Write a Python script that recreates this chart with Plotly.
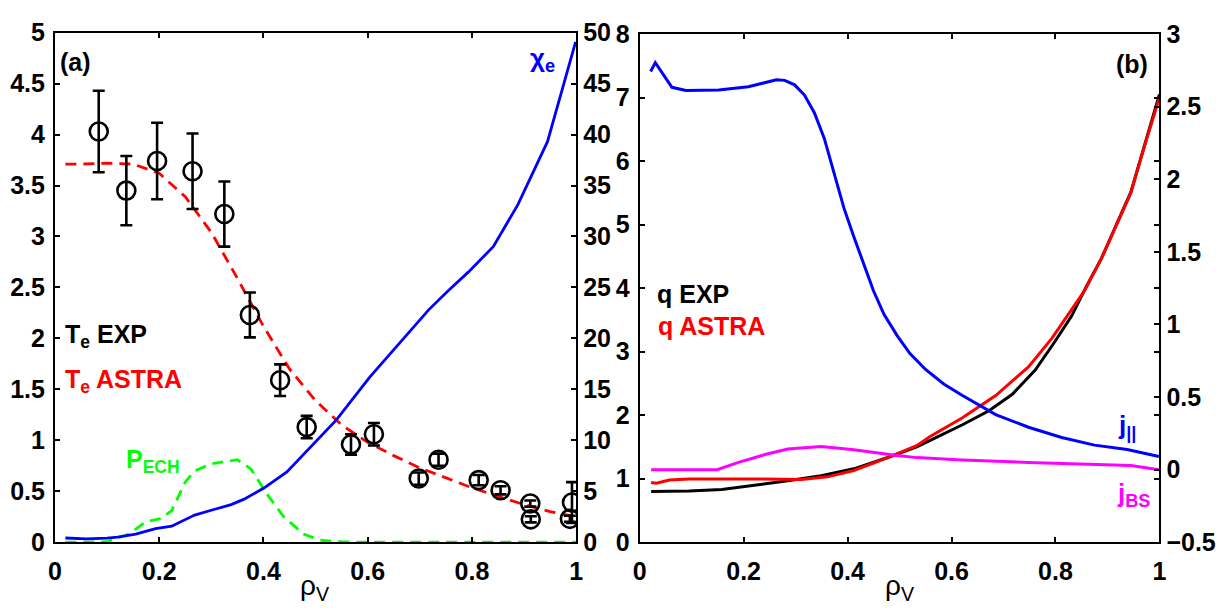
import plotly.graph_objects as go

W, H = 1229, 612

# ---------------- Panel (a) data ----------------
te_exp_rho = [0.084, 0.137, 0.196, 0.264, 0.325, 0.374, 0.432, 0.483, 0.568, 0.612,
              0.698, 0.736, 0.813, 0.855, 0.912, 0.913, 0.992, 0.988]
te_exp_val = [4.03, 3.45, 3.74, 3.64, 3.22, 2.23, 1.59, 1.13, 0.96, 1.06,
              0.625, 0.81, 0.61, 0.51, 0.38, 0.225, 0.39, 0.23]
te_exp_err = [0.40, 0.34, 0.375, 0.37, 0.32, 0.22, 0.155, 0.11, 0.10, 0.11,
              0.06, 0.06, 0.05, 0.04, 0.03, 0.03, 0.20, 0.03]

astra_rho = [0.02, 0.05, 0.10, 0.15, 0.20, 0.25, 0.30, 0.35, 0.40, 0.45, 0.50,
             0.55, 0.60, 0.65, 0.70, 0.75, 0.80, 0.85, 0.90, 0.95, 1.00]
te_astra = [3.71, 3.71, 3.72, 3.71, 3.62, 3.39, 3.04, 2.59, 2.12, 1.70, 1.39,
            1.15, 0.98, 0.85, 0.73, 0.63, 0.535, 0.45, 0.37, 0.30, 0.25]

chi_rho = [0.02, 0.06, 0.10, 0.12, 0.155, 0.193, 0.224, 0.268, 0.30, 0.338, 0.363,
           0.401, 0.445, 0.477, 0.515, 0.54, 0.604, 0.66, 0.717, 0.755, 0.793,
           0.841, 0.888, 0.945, 0.969, 0.999]
chi_e = [0.42, 0.33, 0.40, 0.50, 0.80, 1.33, 1.58, 2.67, 3.14, 3.70, 4.23,
         5.32, 6.90, 8.60, 10.6, 12.0, 16.2, 19.5, 22.8, 24.7, 26.5,
         29.0, 33.1, 39.3, 43.7, 49.1]

ech_rho = [0.02, 0.06, 0.10, 0.142, 0.174, 0.205, 0.224, 0.25, 0.268, 0.30, 0.35,
           0.376, 0.407, 0.439, 0.477, 0.509, 0.55, 0.60, 0.70, 0.80, 0.90, 1.00]
p_ech = [0.0, 0.0, 0.005, 0.08, 0.20, 0.235, 0.31, 0.59, 0.70, 0.77, 0.81,
         0.72, 0.47, 0.25, 0.08, 0.02, 0.005, 0.0, 0.0, 0.0, 0.0, 0.0]

# ---------------- Panel (b) data ----------------
qexp_rho = [0.022, 0.095, 0.158, 0.222, 0.285, 0.349, 0.412, 0.476, 0.533, 0.558,
            0.621, 0.672, 0.717, 0.761, 0.799, 0.831, 0.859, 0.888, 0.945, 0.97, 1.0]
q_exp = [0.80, 0.806, 0.832, 0.896, 0.967, 1.047, 1.156, 1.33, 1.50, 1.60,
         1.85, 2.07, 2.33, 2.71, 3.16, 3.56, 4.02, 4.46, 5.51, 6.21, 7.05]

qast_rho = [0.022, 0.032, 0.057, 0.095, 0.222, 0.311, 0.361, 0.412, 0.476, 0.533,
            0.558, 0.621, 0.685, 0.748, 0.793, 0.831, 0.856, 0.888, 0.945, 0.97, 1.0]
q_astra = [0.94, 0.93, 0.98, 0.997, 0.997, 0.99, 1.03, 1.13, 1.33, 1.52,
           1.66, 1.96, 2.31, 2.76, 3.21, 3.66, 3.96, 4.46, 5.50, 6.20, 7.0]

jpar_rho = [0.021, 0.030, 0.062, 0.089, 0.152, 0.209, 0.263, 0.279, 0.298, 0.317,
            0.336, 0.355, 0.374, 0.393, 0.412, 0.43, 0.45, 0.47, 0.495, 0.52,
            0.55, 0.585, 0.621, 0.685, 0.748, 0.812, 0.875, 0.938, 0.999]
j_par = [2.742, 2.803, 2.633, 2.611, 2.615, 2.637, 2.685, 2.681, 2.65, 2.58,
         2.458, 2.283, 2.042, 1.801, 1.604, 1.42, 1.23, 1.07, 0.925, 0.80,
         0.69, 0.59, 0.511, 0.379, 0.292, 0.222, 0.169, 0.139, 0.091]

jbs_rho = [0.022, 0.149, 0.19, 0.241, 0.285, 0.349, 0.412, 0.476, 0.495, 0.533,
           0.621, 0.748, 0.875, 0.945, 0.999]
j_bs = [0.0, 0.0, 0.05, 0.104, 0.142, 0.159, 0.137, 0.104, 0.098, 0.083,
        0.067, 0.05, 0.035, 0.028, 0.0]

# ---------------- Tick labels ----------------
x_ticks = [0, 0.2, 0.4, 0.6, 0.8, 1.0]
x_ticktext = ["0", "0.2", "0.4", "0.6", "0.8", "1"]
ya_ticks = [0, 0.5, 1, 1.5, 2, 2.5, 3, 3.5, 4, 4.5, 5]
ya_ticktext = ["0", "0.5", "1", "1.5", "2", "2.5", "3", "3.5", "4", "4.5", "5"]
ya2_ticks = [0, 5, 10, 15, 20, 25, 30, 35, 40, 45, 50]
ya2_ticktext = ["0", "5", "10", "15", "20", "25", "30", "35", "40", "45", "50"]
yb_ticks = [0, 1, 2, 3, 4, 5, 6, 7, 8]
yb_ticktext = ["0", "1", "2", "3", "4", "5", "6", "7", "8"]
yb2_ticks = [-0.5, 0, 0.5, 1, 1.5, 2, 2.5, 3]
yb2_ticktext = ["\u22120.5", "0", "0.5", "1", "1.5", "2", "2.5", "3"]

FONT = "Liberation Sans, Arial, Helvetica, sans-serif"
TICKFONT = dict(family=FONT, size=25, color="black", weight="bold")

fig = go.Figure()

# Panel (a)
fig.add_trace(go.Scatter(x=chi_rho, y=chi_e, mode="lines", xaxis="x", yaxis="y2",
                         line=dict(color="#0000FF", width=2.8), showlegend=False))
fig.add_trace(go.Scatter(x=ech_rho, y=p_ech, mode="lines", xaxis="x", yaxis="y",
                         line=dict(color="#00FF00", width=2.8, dash="11px,7px"), showlegend=False))
fig.add_trace(go.Scatter(x=astra_rho, y=te_astra, mode="lines", xaxis="x", yaxis="y",
                         line=dict(color="#FF0000", width=2.8, dash="11px,7px"), showlegend=False))
fig.add_trace(go.Scatter(x=te_exp_rho, y=te_exp_val, mode="markers", xaxis="x", yaxis="y",
                         marker=dict(symbol="circle-open", size=18, color="black",
                                     line=dict(color="black", width=2.6)),
                         error_y=dict(type="data", array=te_exp_err, visible=True,
                                      color="black", thickness=2.6, width=6),
                         showlegend=False))

# Panel (b)
fig.add_trace(go.Scatter(x=jpar_rho, y=j_par, mode="lines", xaxis="x2", yaxis="y4",
                         line=dict(color="#0000FF", width=3), showlegend=False))
fig.add_trace(go.Scatter(x=jbs_rho, y=j_bs, mode="lines", xaxis="x2", yaxis="y4",
                         line=dict(color="#FF00FF", width=3), showlegend=False))
fig.add_trace(go.Scatter(x=qexp_rho, y=q_exp, mode="lines", xaxis="x2", yaxis="y3",
                         line=dict(color="black", width=3), showlegend=False))
fig.add_trace(go.Scatter(x=qast_rho, y=q_astra, mode="lines", xaxis="x2", yaxis="y3",
                         line=dict(color="#FF0000", width=3), showlegend=False))

ax_common = dict(showgrid=False, zeroline=False, showline=True, linecolor="black",
                 linewidth=2, ticks="inside", ticklen=5, tickwidth=1.5,
                 tickcolor="black", tickfont=TICKFONT)

xa0, xa1 = 48.5 / W, 575.7 / W
xb0, xb1 = 640.0 / W, 1165.7 / W
ya0, ya1 = 1 - 553.6 / H, 1 - 19.5 / H
yb0, yb1 = 1 - 553.6 / H, 1 - 21.0 / H

fig.update_layout(
    width=W, height=H, margin=dict(l=0, r=0, t=0, b=0),
    paper_bgcolor="white", plot_bgcolor="white",
    font=dict(family=FONT, color="black"),
    xaxis=dict(domain=[xa0, xa1], range=[0, 1], anchor="y", mirror="ticks",
               tickvals=x_ticks, ticktext=x_ticktext, ticklabelstandoff=6, **ax_common),
    yaxis=dict(domain=[ya0, ya1], range=[0, 5], anchor="x", ticklabelstandoff=3,
               tickvals=ya_ticks, ticktext=ya_ticktext, **ax_common),
    yaxis2=dict(range=[0, 50], overlaying="y", side="right", anchor="x",
                tickvals=ya2_ticks, ticktext=ya2_ticktext, **ax_common),
    xaxis2=dict(domain=[xb0, xb1], range=[0, 1], anchor="y3", mirror="ticks",
                tickvals=x_ticks, ticktext=x_ticktext, ticklabelstandoff=6, **ax_common),
    yaxis3=dict(domain=[yb0, yb1], range=[0, 8], anchor="x2", mirror="ticks",
                ticklabelstandoff=3,
                tickvals=yb_ticks, ticktext=yb_ticktext, **ax_common),
    yaxis4=dict(range=[-0.5, 3], overlaying="y3", side="right", anchor="x2",
                tickvals=yb2_ticks, ticktext=yb2_ticktext, **ax_common),
)


def px(xp, yp):
    return xp / W, 1 - yp / H


def add_text(text, xp, yp, color, size=23, bold=True, xanchor="left", yanchor="middle"):
    x, y = px(xp, yp)
    fig.add_annotation(text=text, x=x, y=y, xref="paper", yref="paper",
                       xanchor=xanchor, yanchor=yanchor, showarrow=False,
                       font=dict(family=FONT, size=size, color=color,
                                 weight="bold" if bold else "normal"))


add_text("(a)", 52, 50, "black", size=25)
add_text("\u03c7<sub>e</sub>", 527, 48, "#0000FF", size=26)
add_text("T<sub>e</sub> EXP", 57, 337, "black", size=25)
add_text("T<sub>e</sub> ASTRA", 57, 385, "#FF0000", size=25)
add_text("P<sub>ECH</sub>", 118, 468, "#00FF00", size=25)
add_text("(b)", 1120, 52, "black", size=25)
add_text("q EXP", 655, 293, "black", size=25)
add_text("q ASTRA", 656, 327, "#FF0000", size=25)
add_text("j<sub>||</sub>", 1122, 432, "#0000FF", size=26)
add_text("j<sub>BS</sub>", 1121, 504, "#FF00FF", size=26)

# x axis titles
add_text("\u03c1<sub>V</sub>", 311, 601, "black", size=28, bold=False, xanchor="center")
add_text("\u03c1<sub>V</sub>", 903, 601, "black", size=28, bold=False, xanchor="center")

fig.write_html("out.html")
